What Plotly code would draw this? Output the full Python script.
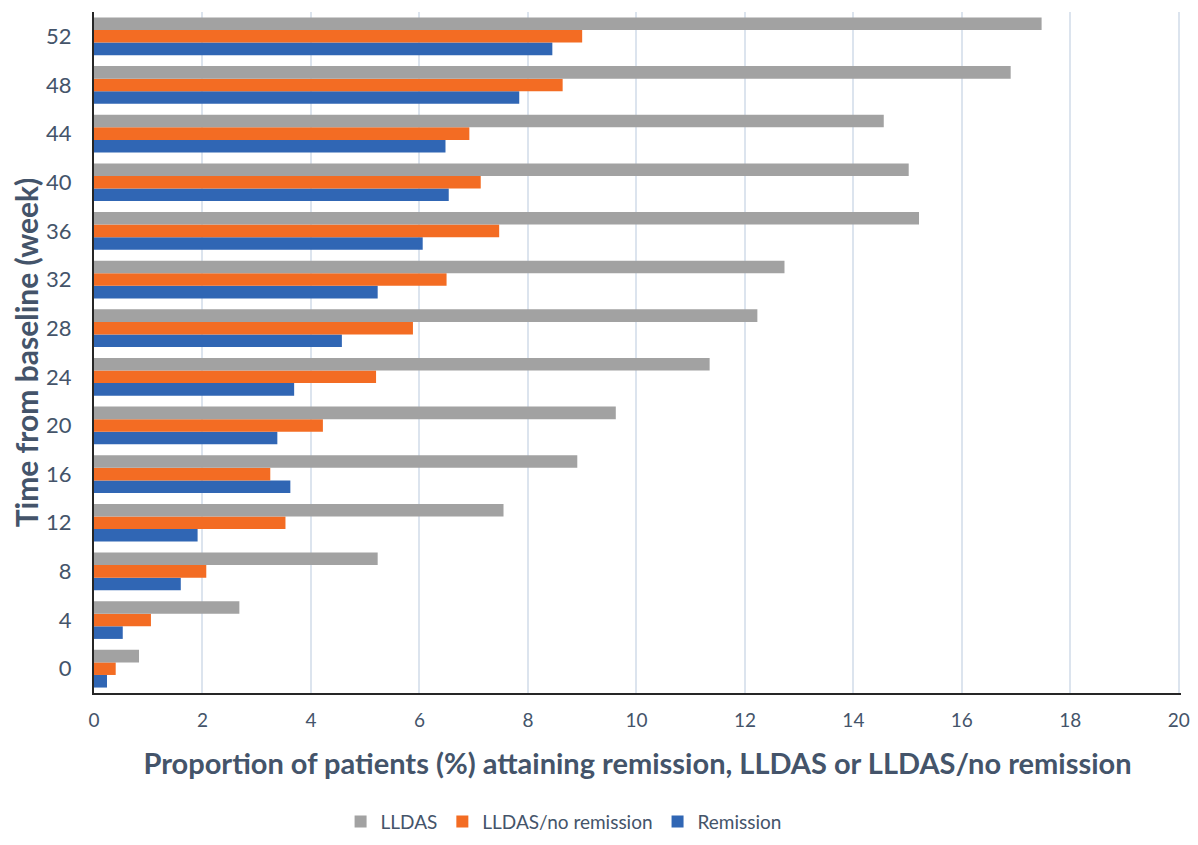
import plotly.graph_objects as go

weeks = ["0", "4", "8", "12", "16", "20", "24", "28", "32", "36", "40", "44", "48", "52"]
lldas = [0.83, 2.68, 5.23, 7.55, 8.91, 9.62, 11.35, 12.23, 12.73, 15.21, 15.02, 14.56, 16.90, 17.47]
lldas_no_rem = [0.40, 1.05, 2.07, 3.53, 3.25, 4.22, 5.20, 5.88, 6.50, 7.47, 7.13, 6.92, 8.64, 9.00]
remission = [0.24, 0.53, 1.60, 1.91, 3.62, 3.38, 3.69, 4.57, 5.23, 6.06, 6.54, 6.48, 7.84, 8.45]
x_ticks = [0, 2, 4, 6, 8, 10, 12, 14, 16, 18, 20]

TEXT = "#44546A"
FONT = "Lato, 'Open Sans', sans-serif"

fig = go.Figure()
fig.add_trace(go.Bar(y=weeks, x=remission, orientation="h", name="Remission",
                     marker=dict(color="#3066B4", line=dict(width=0))))
fig.add_trace(go.Bar(y=weeks, x=lldas_no_rem, orientation="h", name="LLDAS/no remission",
                     marker=dict(color="#F36C23", line=dict(width=0))))
fig.add_trace(go.Bar(y=weeks, x=lldas, orientation="h", name="LLDAS",
                     marker=dict(color="#A2A2A2", line=dict(width=0))))

fig.update_layout(
    width=1182, height=829,
    margin=dict(l=86, r=9, t=4, b=144, autoexpand=False),
    paper_bgcolor="white", plot_bgcolor="white",
    barmode="group", bargap=0.224, bargroupgap=0,
    font=dict(family=FONT, color=TEXT, size=20),
    legend=dict(orientation="h", x=0.432, xanchor="center", y=-0.189, yanchor="middle",
                traceorder="reversed", font=dict(size=19, color=TEXT),
                itemwidth=30),
    showlegend=True,
)
fig.update_xaxes(
    range=[0, 20.04], tickvals=x_ticks, ticktext=[str(v) for v in x_ticks],
    showgrid=True, gridcolor="#DCE4EE", gridwidth=2,
    showline=True, linecolor="#262626", linewidth=2,
    zeroline=False, ticks="", ticklabelstandoff=9, automargin=False,
    ticklabeloverflow="allow",
    tickfont=dict(size=19, color=TEXT),
    title=dict(text="<b>Proportion of patients (%) attaining remission, LLDAS or LLDAS/no remission</b>",
               font=dict(size=29, color=TEXT, family=FONT), standoff=24),
)
fig.update_yaxes(
    type="category", categoryorder="array", categoryarray=weeks,
    showgrid=False, showline=True, linecolor="#262626", linewidth=2,
    ticks="", ticklabelstandoff=16, automargin=False,
    tickfont=dict(size=22, color=TEXT),
    title=dict(text="<b>Time from baseline (week)</b>",
               font=dict(size=30, color=TEXT, family=FONT), standoff=6),
)

fig.write_html("out.html")
